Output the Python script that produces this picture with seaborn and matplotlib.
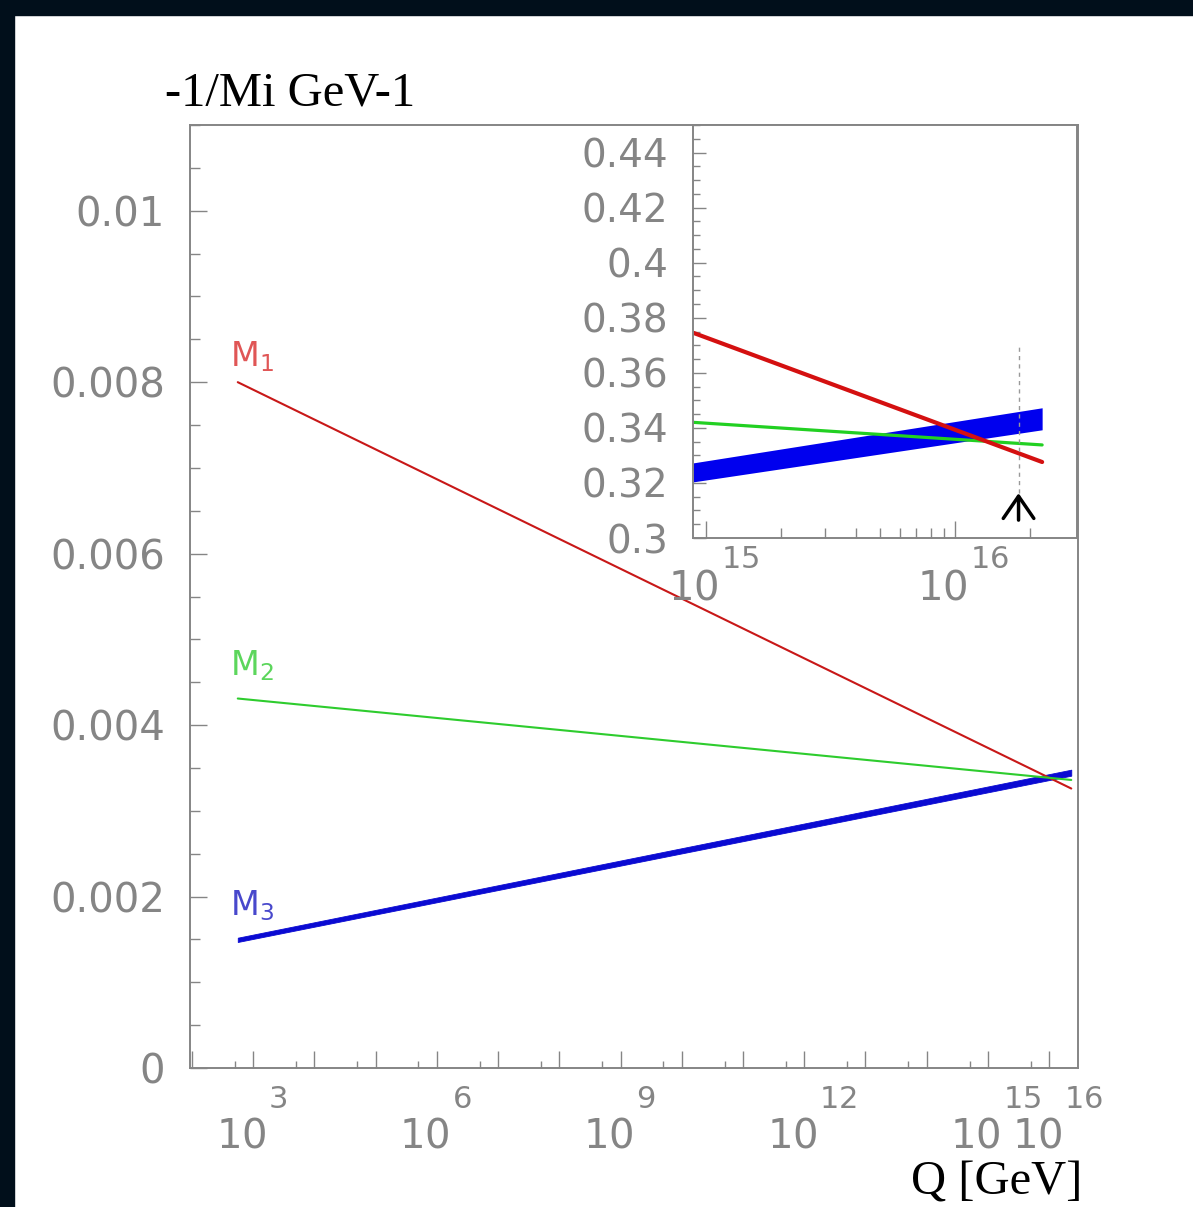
import matplotlib
matplotlib.use("Agg")
import pandas as pd
import matplotlib.pyplot as plt
import matplotlib.ticker as mticker
import matplotlib.transforms as mtrans
from matplotlib.patches import Rectangle
import seaborn as sns

# main panel: inverse masses at the two ends of the running (Q in GeV)
q_main = [10**2.75, 10**16.36]
m1_main = [0.00800, 0.00326]
m2_main = [0.00431, 0.00336]
m3_lo_main = [0.00147, 0.00341]
m3_hi_main = [0.00152, 0.00348]

# inset: zoom near the unification point
q_zoom = [10**14.95, 10**16.35]
m1_zoom = [0.3745, 0.3276]
m2_zoom = [0.3420, 0.3338]
m3_lo_zoom = [0.3204, 0.3393]
m3_hi_zoom = [0.3273, 0.3473]
q_gut = 1.8e16

main_yticks = [0, 0.002, 0.004, 0.006, 0.008, 0.01]
main_xlabels = [3, 6, 9, 12, 15, 16]
zoom_yticks = [0.3, 0.32, 0.34, 0.36, 0.38, 0.4, 0.42, 0.44]
zoom_xlabels = [15, 16]

RED, GREEN, BLUE = "#c81818", "#2ecc2e", "#0a0ad2"
GREY = "#858585"
W, H = 1193, 1207

sns.set_style("white")
plt.rcParams["font.family"] = ["DejaVu Sans"]
plt.rcParams["mathtext.fontset"] = "dejavusans"

fig = plt.figure(figsize=(W / 100, H / 100), dpi=100)
fig.patches.append(Rectangle((0, 1 - 15 / H), 1, 15 / H, transform=fig.transFigure,
                             color="#010f1b", zorder=0))
fig.patches.append(Rectangle((0, 0), 14 / W, 1, transform=fig.transFigure,
                             color="#010f1b", zorder=0))


def style_axes(ax):
    for s in ax.spines.values():
        s.set_color(GREY)
        s.set_linewidth(1.4)
    ax.tick_params(which="both", direction="in", color=GREY, labelcolor=GREY,
                   bottom=True, left=True, top=False, right=False)


def power_labels(ax, exps, base_dy, sup_dy):
    # ROOT-like "10^k" labels: base and exponent as two pieces of text
    tr = mtrans.blended_transform_factory(ax.transData, ax.transAxes)
    for k in exps:
        ax.text(10.0**k, 0, r"$\mathregular{10}$", fontsize=29, color=GREY,
                ha="right", va="baseline",
                transform=tr + mtrans.ScaledTranslation(0.13, base_dy / 100, fig.dpi_scale_trans))
        ax.text(10.0**k, 0, r"$\mathregular{%d}$" % k, fontsize=22, color=GREY,
                ha="left", va="baseline",
                transform=tr + mtrans.ScaledTranslation(0.15, sup_dy / 100, fig.dpi_scale_trans))


# ---- main axes
ax = fig.add_axes([190 / W, 1 - 1068 / H, 888 / W, 943 / H])
ax.set_xscale("log")
df_main = pd.DataFrame({"Q": q_main * 2, "val": m1_main + m2_main,
                        "M": ["M1"] * 2 + ["M2"] * 2})
sns.lineplot(data=df_main, x="Q", y="val", hue="M", palette={"M1": RED, "M2": GREEN},
             linewidth=1.5, legend=False, ax=ax)
ax.fill_between(q_main, m3_lo_main, m3_hi_main, color=BLUE, lw=0.6, edgecolor=BLUE)
ax.set_xlim(10**1.97, 10**16.47)
ax.set_ylim(0, 0.011)
ax.set_xlabel("")
ax.set_ylabel("")
style_axes(ax)
ax.xaxis.set_major_locator(mticker.FixedLocator([10.0**k for k in range(2, 17)]))
ax.xaxis.set_minor_locator(mticker.FixedLocator([5 * 10.0**k for k in range(2, 16)]))
ax.xaxis.set_major_formatter(mticker.NullFormatter())
ax.xaxis.set_minor_formatter(mticker.NullFormatter())
ax.yaxis.set_major_locator(mticker.FixedLocator(main_yticks))
ax.yaxis.set_minor_locator(mticker.MultipleLocator(0.0005))
ax.yaxis.set_major_formatter(mticker.FormatStrFormatter("%g"))
ax.tick_params(axis="x", which="major", length=12, width=1)
ax.tick_params(axis="x", which="minor", length=5, width=1)
ax.tick_params(axis="y", which="major", length=12, width=1, pad=18, labelsize=29)
ax.tick_params(axis="y", which="minor", length=7, width=1)
power_labels(ax, main_xlabels, -79, -40)

ax.text(10**2.62, 0.00819, r"$\mathrm{M}_{1}$", color="#e05656", fontsize=24, va="baseline")
ax.text(10**2.62, 0.00458, r"$\mathrm{M}_{2}$", color="#5cd65c", fontsize=24, va="baseline")
ax.text(10**2.62, 0.00178, r"$\mathrm{M}_{3}$", color="#4848cc", fontsize=24, va="baseline")

# ---- inset
axi = fig.add_axes([693 / W, 1 - 538 / H, 384 / W, 413 / H])
axi.set_facecolor("white")
axi.set_xscale("log")
df_zoom = pd.DataFrame({"Q": q_zoom * 2, "val": m1_zoom + m2_zoom,
                        "M": ["M1"] * 2 + ["M2"] * 2})
sns.lineplot(data=df_zoom[df_zoom.M == "M2"], x="Q", y="val", color="#22d022",
             linewidth=2.3, legend=False, ax=axi)
axi.fill_between(q_zoom, m3_lo_zoom, m3_hi_zoom, color="#0000ee", lw=0)
sns.lineplot(data=df_zoom[df_zoom.M == "M1"], x="Q", y="val", color="#d41010",
             linewidth=3, legend=False, ax=axi)
axi.plot([q_gut, q_gut], [0.3165, 0.3695], ls=(0, (3, 3)), color="#999999", lw=1)
axi.annotate("", xy=(q_gut, 0.3163), xytext=(q_gut, 0.3065),
             arrowprops=dict(arrowstyle="->,head_width=0.55,head_length=0.8",
                             color="black", lw=2.5, mutation_scale=20,
                             shrinkA=0, shrinkB=0))
axi.set_xlim(10**14.948, 10**16.49)
axi.set_ylim(0.3, 0.45)
axi.set_xlabel("")
axi.set_ylabel("")
style_axes(axi)
axi.xaxis.set_major_locator(mticker.FixedLocator([1e15, 1e16]))
axi.xaxis.set_minor_locator(mticker.FixedLocator([k * 1e15 for k in range(2, 10)] + [2e16]))
axi.xaxis.set_major_formatter(mticker.NullFormatter())
axi.xaxis.set_minor_formatter(mticker.NullFormatter())
axi.yaxis.set_major_locator(mticker.FixedLocator(zoom_yticks))
axi.yaxis.set_minor_locator(mticker.MultipleLocator(0.005))
axi.yaxis.set_major_formatter(mticker.FormatStrFormatter("%g"))
axi.tick_params(axis="x", which="major", length=12, width=1)
axi.tick_params(axis="x", which="minor", length=7, width=1)
axi.tick_params(axis="y", which="major", length=9, width=1, pad=18, labelsize=28)
axi.tick_params(axis="y", which="minor", length=5, width=1)
power_labels(axi, zoom_xlabels, -62, -30)

fig.text(165 / W, 1 - 105 / H, "-1/Mi GeV-1", family="Liberation Serif", fontsize=35,
         color="black", ha="left", va="baseline")
fig.text(1082 / W, 1 - 1195 / H, "Q [GeV]", family="Liberation Serif", fontsize=35,
         color="black", ha="right", va="baseline")

fig.savefig("out.png", dpi=100, facecolor="white")
